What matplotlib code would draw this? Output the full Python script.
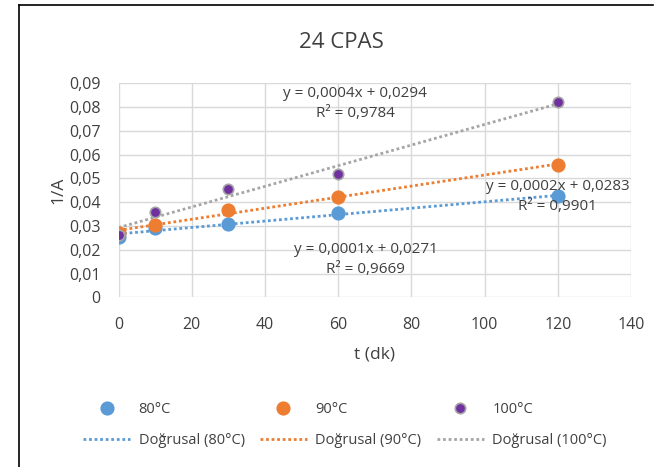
import numpy as np
import matplotlib
matplotlib.use("Agg")
import matplotlib.pyplot as plt
from matplotlib.lines import Line2D

t = [0, 10, 30, 60, 120]
y80 = [0.0252, 0.0290, 0.0310, 0.0354, 0.0424]
y90 = [0.0272, 0.0302, 0.0368, 0.0421, 0.0557]
y100 = [0.0263, 0.0360, 0.0457, 0.0520, 0.0820]
series_names = ["80°C", "90°C", "100°C"]
trend_names = ["Doğrusal (80°C)", "Doğrusal (90°C)", "Doğrusal (100°C)"]
eq_texts = ["y = 0,0001x + 0,0271\nR² = 0,9669",
            "y = 0,0002x + 0,0283\nR² = 0,9901",
            "y = 0,0004x + 0,0294\nR² = 0,9784"]
yticks = [0, 0.01, 0.02, 0.03, 0.04, 0.05, 0.06, 0.07, 0.08, 0.09]
ytick_labels = ["0", "0,01", "0,02", "0,03", "0,04", "0,05", "0,06", "0,07", "0,08", "0,09"]
xticks = [0, 20, 40, 60, 80, 100, 120, 140]

plt.rcParams['font.family'] = ['Open Sans', 'DejaVu Sans']
txt = "#404040"

fig = plt.figure(figsize=(6.55, 4.67), dpi=100)
ax = fig.add_axes([118.5/655, 1-297.3/467, (631-118.5)/655, (297.3-83.3)/467])

marker_colors = ["#5b9bd5", "#ed7d31", "#7030a0"]
edge_colors = ["#5b9bd5", "#ed7d31", "#a5a5a5"]
line_colors = ["#5b9bd5", "#ed7d31", "#a5a5a5"]
sizes = [9, 9, 7.5]

handles = []
for ys, mc, ec, lc, ms, nm, tn in zip([y80, y90, y100], marker_colors, edge_colors,
                                        line_colors, sizes, series_names, trend_names):
    coef = np.polyfit(t, ys, 1)
    xx = np.array([t[0], t[-1]])
    ln, = ax.plot(xx, np.polyval(coef, xx), linestyle=(0, (1, 1)), color=lc,
                  linewidth=2, zorder=2, label=tn)
    sc, = ax.plot(t, ys, 'o', color=mc, markeredgecolor=ec, markeredgewidth=1.2,
                  markersize=ms, zorder=3, label=nm)
    handles.append((sc, ln))

ax.set_xlim(0, 140)
ax.set_ylim(0, 0.09)
ax.set_xticks(xticks)
ax.set_yticks(yticks)
ax.set_yticklabels(ytick_labels)
ax.grid(True, color="#d9d9d9", linewidth=1)
ax.set_axisbelow(True)
for s in ax.spines.values():
    s.set_visible(False)
ax.tick_params(length=0, labelsize=11.5, labelcolor=txt)
ax.tick_params(axis='y', pad=13)
ax.tick_params(axis='x', pad=14)

ax.set_xlabel("t (dk)", fontsize=12.5, color=txt, labelpad=10)
ax.set_ylabel("1/A", fontsize=12.5, color=txt, labelpad=2)
fig.text(341/655, 1-42/467, "24 CPAS", ha='center', va='center', fontsize=16, color="#404040")

eq_pos = [(67.6, 0.0233), (119.9, 0.0497), (64.7, 0.0888)]
for (x, y), s in zip(eq_pos, eq_texts):
    ax.text(x, y, s, ha='center', va='top', fontsize=11, color=txt, linespacing=1.45,
            zorder=4)

order = []
for sc, ln in handles:
    order += [sc, ln]
labels = [h.get_label() for h in order]
leg = fig.legend(order, labels, ncol=3, loc='center', bbox_to_anchor=(345/655, 1-425/467),
                 frameon=False, fontsize=10.5, handlelength=3.2, columnspacing=1.05,
                 labelspacing=1.05, handletextpad=0.6, labelcolor=txt, numpoints=1)

# outer frame (left and top lines)
fig.add_artist(Line2D([18.5/655, 18.5/655], [0, 1-5/467], transform=fig.transFigure,
                      color='black', linewidth=1.2))
fig.add_artist(Line2D([18.5/655, 653/655], [1-5/467, 1-5/467], transform=fig.transFigure,
                      color='black', linewidth=1.2))

fig.savefig("out.png", dpi=100)
